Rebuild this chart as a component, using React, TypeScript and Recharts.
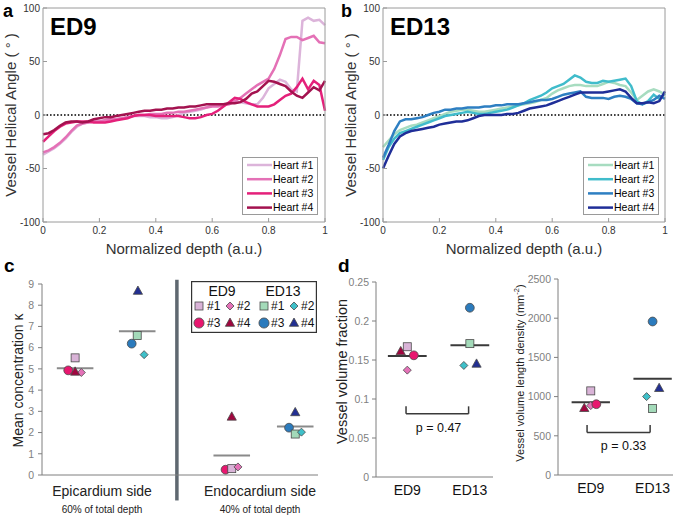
import React from 'react';
import {
  LineChart,
  Line,
  XAxis,
  YAxis,
  ReferenceLine,
  ReferenceDot,
  Legend,
  ScatterChart,
  Scatter,
} from 'recharts';

const FONT = '"Liberation Sans", Arial, Helvetica, sans-serif';

// ---------- Panels a & b : helical angle vs normalized depth ----------
const DEPTH = [
  0, 0.02, 0.04, 0.06, 0.08, 0.1, 0.12, 0.14, 0.16, 0.18,
  0.2, 0.22, 0.24, 0.26, 0.28, 0.3, 0.32, 0.34, 0.36, 0.38,
  0.4, 0.42, 0.44, 0.46, 0.48, 0.5, 0.52, 0.54, 0.56, 0.58,
  0.6, 0.62, 0.64, 0.66, 0.68, 0.7, 0.72, 0.74, 0.76, 0.78,
  0.8, 0.82, 0.84, 0.86, 0.88, 0.9, 0.92, 0.94, 0.96, 0.98, 1,
];

const ED9_H1 = [
  -37, -34, -31, -27, -22, -16, -11, -8, -7, -6,
  -6, -5, -5, -4, -3, -2, -1, -1, -1, -2,
  -2, -3, -3, -2, 0, 2, 3, 4, 5, 7,
  9, 9, 10, 11, 12, 12, 11, 10, 10, 16,
  25, 29, 33, 31, 24, 22, 88, 91, 88, 89, 84,
];
const ED9_H2 = [
  -35, -33, -30, -26, -21, -15, -10, -8, -7, -6,
  -6, -5, -4, -4, -3, -2, -1, 0, 0, 1,
  1, 1, 2, 2, 3, 3, 4, 5, 6, 7,
  8, 8, 9, 10, 13, 16, 20, 24, 28, 31,
  34, 43, 56, 71, 73, 73, 70, 72, 74, 68, 67,
];
const ED9_H3 = [
  -25, -20, -15, -11, -8, -7, -6, -6, -6, -7,
  -7, -7, -6, -5, -4, -3, -1, 0, 0, 0,
  -1, -1, -1, -1, -1, -2, -3, -3, -2, 0,
  1, 4, 8, 12, 16, 15, 12, 10, 8, 8,
  8, 10, 14, 18, 20, 26, 34, 24, 32, 28, 4,
];
const ED9_H4 = [
  -18, -17, -14, -10, -7, -6, -6, -7, -6, -4,
  -3, -2, -2, -1, 0, 1, 2, 3, 4, 4,
  5, 5, 6, 6, 7, 7, 8, 8, 9, 10,
  10, 10, 10, 11, 11, 12, 15, 20, 22, 27,
  32, 31, 29, 27, 22, 18, 16, 21, 26, 23, 32,
];

const ED13_H1 = [
  -30, -24, -18, -14, -12, -10, -9, -7, -5, -3,
  -1, 1, 3, 4, 5, 5, 4, 3, 3, 4,
  5, 6, 7, 8, 9, 10, 11, 12, 14, 16,
  20, 23, 25, 27, 28, 28, 27, 27, 27, 29,
  31, 30, 28, 27, 21, 14, 18, 22, 24, 22, 19,
];
const ED13_H2 = [
  -42, -30, -22, -17, -15, -13, -11, -9, -7, -5,
  -3, -1, 0, 1, 2, 3, 2, 1, 1, 2,
  3, 4, 5, 7, 9, 11, 14, 16, 18, 21,
  25, 27, 29, 33, 37, 35, 31, 30, 30, 32,
  31, 32, 33, 34, 27, 13, 10, 13, 19, 15, 20,
];
const ED13_H3 = [
  -40, -28, -15, -6, -4, -4, -3, -2, 0, 2,
  3, 5, 5, 6, 6, 7, 7, 7, 8, 8,
  9, 9, 10, 10, 10, 11, 12, 13, 14, 14,
  15, 17, 19, 20, 21, 22, 17, 16, 16, 16,
  15, 17, 18, 17, 15, 11, 10, 12, 14, 18, 15,
];
const ED13_H4 = [
  -50, -38, -27, -20, -17, -15, -14, -13, -12, -11,
  -9, -8, -7, -6, -6, -5, -3, -1, 0, 0,
  0, 0, 1, 1, 2, 4, 6, 7, 8, 9,
  11, 13, 15, 17, 19, 21, 21, 21, 21, 21,
  22, 23, 24, 22, 16, 11, 11, 12, 11, 13, 22,
];

const HEART_LABELS = ['Heart #1', 'Heart #2', 'Heart #3', 'Heart #4'];
const ED9_LINE_COLORS = ['#dcb4da', '#e471b6', '#e4207a', '#a3124f'];
const ED13_LINE_COLORS = ['#a7dcc0', '#40bccb', '#2e7fc2', '#1f2e98'];
const ANGLE_TICKS = [-100, -50, 0, 50, 100];
const DEPTH_TICKS = [0, 0.2, 0.4, 0.6, 0.8, 1];

// ---------- Panel c : mean concentration kappa ----------
const KAPPA_TICKS = [0, 1, 2, 3, 4, 5, 6, 7, 8, 9];
const KAPPA_ED9_EPI = [5.52, 4.83, 4.93, 4.86];
const KAPPA_ED13_EPI = [6.57, 5.67, 6.19, 8.67];
const KAPPA_ED9_ENDO = [0.3, 0.38, 0.25, 2.74];
const KAPPA_ED13_ENDO = [1.93, 2.02, 2.23, 2.95];
const C_GROUP_X = { ed9Epi: 0.48, ed13Epi: 1.38, ed9Endo: 2.75, ed13Endo: 3.67 };
const C_JIT_ED9_EPI = [0, 0.09, -0.1, 0];
const C_JIT_ED13_EPI = [0, 0.1, -0.08, 0.01];
const C_JIT_ED9_ENDO = [0, 0.09, -0.09, 0];
const C_JIT_ED13_ENDO = [0, 0.09, -0.09, 0];
const C_DIVIDER_X = 1.955;
const C_LABEL_TICKS = [0.87, 3.16];
const C_LABELS = ['Epicardium side', 'Endocardium side'];
const C_SUBLABELS = ['60% of total depth', '40% of total depth'];

// ---------- Panel d ----------
const STAGES = ['ED9', 'ED13'];
const VVF_TICKS = [0, 0.05, 0.1, 0.15, 0.2, 0.25];
const VVF_ED9 = [0.167, 0.137, 0.156, 0.161];
const VVF_ED13 = [0.171, 0.143, 0.217, 0.145];
const VVF_JIT_ED9 = [0, 0, 0.105, -0.105];
const VVF_JIT_ED13 = [0, -0.096, 0, 0.107];
const VLD_TICKS = [0, 500, 1000, 1500, 2000, 2500];
const VLD_ED9 = [1073, 885, 903, 852];
const VLD_ED13 = [847, 1000, 1958, 1107];
const VLD_JIT_ED9 = [0, 0, 0.09, -0.105];
const VLD_JIT_ED13 = [0, -0.097, 0, 0.106];
const P_VALUES = ['p = 0.47', 'p = 0.33'];

const MARKER_KINDS = ['square', 'diamond', 'circle', 'triangle'];
const ED9_MARKER_COLORS = ['#d9b3d7', '#e472b8', '#e8176f', '#a0063f'];
const ED13_MARKER_COLORS = ['#a3dab9', '#3fc0c9', '#2b7bbd', '#222f92'];

const mean = (a: number[]) => a.reduce((s, v) => s + v, 0) / a.length;

function Marker(props: any) {
  const { cx, cy, kind, fill, s = 1 } = props;
  if (cx == null || cy == null) return null;
  const st = { fill, stroke: '#4a4a4a', strokeWidth: 0.8 };
  if (kind === 'square') {
    const h = 4 * s;
    return <rect x={cx - h} y={cy - h} width={2 * h} height={2 * h} {...st} />;
  }
  if (kind === 'diamond') {
    const h = 4 * s;
    return <polygon points={`${cx},${cy - h} ${cx + h},${cy} ${cx},${cy + h} ${cx - h},${cy}`} {...st} />;
  }
  if (kind === 'circle') {
    return <circle cx={cx} cy={cy} r={4.4 * s} {...st} />;
  }
  const w = 4.6 * s;
  return (
    <polygon
      points={`${cx},${cy - 5 * s} ${cx + w},${cy + 3.3 * s} ${cx - w},${cy + 3.3 * s}`}
      {...st}
    />
  );
}

function YTitle(props: any) {
  const { viewBox, text, dx = 0, dy = 0, fontSize = 15, fill = '#333', children } = props;
  const vb = viewBox || { x: 0, y: 0, width: 0, height: 0 };
  const x = vb.x + dx;
  const y = vb.y + vb.height / 2 + dy;
  return (
    <text
      x={x}
      y={y}
      transform={`rotate(-90 ${x} ${y})`}
      textAnchor="middle"
      dominantBaseline="central"
      fontSize={fontSize}
      fill={fill}
      fontFamily={FONT}
    >
      {children || text}
    </text>
  );
}

function XTitle(props: any) {
  const { viewBox, text, dy = 32, fontSize = 15, fill = '#333' } = props;
  const vb = viewBox || { x: 0, y: 0, width: 0, height: 0 };
  return (
    <text
      x={vb.x + vb.width / 2}
      y={vb.y + dy}
      textAnchor="middle"
      fontSize={fontSize}
      fill={fill}
      fontFamily={FONT}
    >
      {text}
    </text>
  );
}

function AngleLegend(props: any) {
  const { payload = [] } = props;
  return (
    <svg width={76} height={58} style={{ display: 'block' }}>
      <rect x={0.5} y={0.5} width={75} height={57} fill="#fff" stroke="#9a9a9a" strokeWidth={1} />
      {payload.map((p: any, i: number) => (
        <g key={i}>
          <line x1={5} x2={30} y1={8 + i * 14.2} y2={8 + i * 14.2} stroke={p.color} strokeWidth={2.5} />
          <text x={31} y={8 + i * 14.2 + 3.8} fontSize={10.5} fill="#000" fontFamily={FONT}>
            {p.value}
          </text>
        </g>
      ))}
    </svg>
  );
}

function AnglePanel(props: any) {
  const { left, width, marginRight, series, colors, legendLeft } = props;
  const rows = DEPTH.map((d, i) => {
    const r: any = { depth: d };
    series.forEach((s: number[], k: number) => {
      r['h' + (k + 1)] = s[i];
    });
    return r;
  });
  const axisColor = '#9a9a9a';
  return (
    <div style={{ position: 'absolute', left, top: 0 }}>
      <LineChart
        width={width}
        height={260}
        data={rows}
        margin={{ top: 7, right: marginRight, bottom: 8, left: 3 }}
      >
        <XAxis
          dataKey="depth"
          type="number"
          domain={[0, 1]}
          ticks={DEPTH_TICKS}
          interval={0}
          height={30}
          tickSize={-4}
          tickMargin={9}
          axisLine={{ stroke: axisColor }}
          tickLine={{ stroke: axisColor }}
          tick={{ fontSize: 10, fill: '#333', fontFamily: FONT }}
          label={<XTitle text="Normalized depth (a.u.)" />}
        />
        <XAxis
          xAxisId="top"
          orientation="top"
          type="number"
          domain={[0, 1]}
          ticks={DEPTH_TICKS}
          interval={0}
          height={1}
          tickSize={-4}
          tick={false}
          axisLine={{ stroke: axisColor }}
          tickLine={{ stroke: axisColor }}
        />
        <YAxis
          type="number"
          domain={[-100, 100]}
          ticks={ANGLE_TICKS}
          interval={0}
          width={40}
          tickSize={-4}
          tickMargin={7}
          axisLine={{ stroke: axisColor }}
          tickLine={{ stroke: axisColor }}
          tick={{ fontSize: 10, fill: '#333', fontFamily: FONT }}
          label={<YTitle text="Vessel Helical Angle ( ° )" dx={7} fontSize={15} />}
        />
        <YAxis
          yAxisId="right"
          orientation="right"
          type="number"
          domain={[-100, 100]}
          ticks={ANGLE_TICKS}
          interval={0}
          width={1}
          tickSize={-4}
          tick={false}
          axisLine={{ stroke: axisColor }}
          tickLine={{ stroke: axisColor }}
        />
        <ReferenceLine y={0} stroke="#000" strokeDasharray="1.6 1.9" strokeWidth={1.6} />
        {series.map((_: number[], k: number) => (
          <Line
            key={k}
            type="linear"
            dataKey={'h' + (k + 1)}
            name={HEART_LABELS[k]}
            stroke={colors[k]}
            strokeWidth={2.5}
            dot={false}
            activeDot={false}
            isAnimationActive={false}
          />
        ))}
        <Legend
          layout="vertical"
          align="center"
          verticalAlign="middle"
          wrapperStyle={{ left: legendLeft, top: 157, width: 76, height: 58 }}
          content={<AngleLegend />}
        />
      </LineChart>
    </div>
  );
}

function CTick(props: any) {
  const { x, y, payload } = props;
  const idx = C_LABEL_TICKS.indexOf(payload.value);
  return (
    <g>
      <text x={x} y={y + 21} textAnchor="middle" fontSize={14} fill="#222" fontFamily={FONT}>
        {C_LABELS[idx]}
      </text>
      <text x={x} y={y + 38} textAnchor="middle" fontSize={10} fill="#222" fontFamily={FONT}>
        {C_SUBLABELS[idx]}
      </text>
    </g>
  );
}

function KappaLegend() {
  const colX = [8, 39, 73, 103];
  const txtX = [16, 46, 80, 110];
  const rowY = [25, 42];
  const cells = [
    { row: 0, col: 0, heart: 0, stage: 0 },
    { row: 0, col: 1, heart: 1, stage: 0 },
    { row: 0, col: 2, heart: 0, stage: 1 },
    { row: 0, col: 3, heart: 1, stage: 1 },
    { row: 1, col: 0, heart: 2, stage: 0 },
    { row: 1, col: 1, heart: 3, stage: 0 },
    { row: 1, col: 2, heart: 2, stage: 1 },
    { row: 1, col: 3, heart: 3, stage: 1 },
  ];
  return (
    <svg width={126} height={52} style={{ display: 'block' }}>
      <rect x={0.6} y={0.6} width={124.8} height={50.8} fill="#fff" stroke="#333" strokeWidth={1.2} />
      <text x={31} y={14.5} textAnchor="middle" fontSize={14} fill="#111" fontFamily={FONT}>
        {STAGES[0]}
      </text>
      <text x={92} y={14.5} textAnchor="middle" fontSize={14} fill="#111" fontFamily={FONT}>
        {STAGES[1]}
      </text>
      {cells.map((c, i) => (
        <g key={i}>
          <Marker
            cx={colX[c.col]}
            cy={rowY[c.row]}
            kind={MARKER_KINDS[c.heart]}
            fill={c.stage === 0 ? ED9_MARKER_COLORS[c.heart] : ED13_MARKER_COLORS[c.heart]}
            s={c.heart === 2 ? 1.15 : 1}
          />
          <text x={txtX[c.col]} y={rowY[c.row] + 4.2} fontSize={12} fill="#111" fontFamily={FONT}>
            {'#' + (c.heart + 1)}
          </text>
        </g>
      ))}
    </svg>
  );
}

function KappaPanel() {
  const grey = '#7f7f7f';
  const order = [2, 0, 1, 3];
  const groups = [
    { vals: KAPPA_ED9_EPI, x: C_GROUP_X.ed9Epi },
    { vals: KAPPA_ED13_EPI, x: C_GROUP_X.ed13Epi },
    { vals: KAPPA_ED9_ENDO, x: C_GROUP_X.ed9Endo },
    { vals: KAPPA_ED13_ENDO, x: C_GROUP_X.ed13Endo },
  ];
  return (
    <div style={{ position: 'absolute', left: 0, top: 270 }}>
      <ScatterChart width={330} height={247} margin={{ top: 14, right: 12, bottom: 2, left: 7 }}>
        <XAxis
          type="number"
          dataKey="x"
          domain={[0, 4]}
          ticks={C_LABEL_TICKS}
          interval={0}
          height={40}
          tickSize={0}
          tickMargin={0}
          tickLine={false}
          axisLine={{ stroke: grey }}
          tick={<CTick />}
        />
        <YAxis
          type="number"
          dataKey="y"
          domain={[0, 9]}
          ticks={KAPPA_TICKS}
          interval={0}
          width={35}
          tickSize={4}
          tickMargin={4}
          axisLine={{ stroke: grey }}
          tickLine={{ stroke: grey }}
          tick={{ fontSize: 10.5, fill: grey, fontFamily: FONT }}
          label={<YTitle text="Mean concentration κ" dx={11} dy={1} fontSize={14} fill="#222" />}
        />
        <ReferenceLine
          segment={[
            { x: C_DIVIDER_X, y: -1.2 },
            { x: C_DIVIDER_X, y: 9.2 },
          ]}
          stroke="#5f6870"
          strokeWidth={3.5}
          ifOverflow="visible"
        />
        {groups.map((g, i) => (
          <ReferenceLine
            key={'m' + i}
            segment={[
              { x: g.x - 0.265, y: mean(g.vals) },
              { x: g.x + 0.265, y: mean(g.vals) },
            ]}
            stroke="#8a8a8a"
            strokeWidth={2}
            ifOverflow="visible"
          />
        ))}
        {order.map((k) => (
          <Scatter
            key={'ed9-' + k}
            name={'ED9 #' + (k + 1)}
            data={[
              { x: C_GROUP_X.ed9Epi + C_JIT_ED9_EPI[k], y: KAPPA_ED9_EPI[k] },
              { x: C_GROUP_X.ed9Endo + C_JIT_ED9_ENDO[k], y: KAPPA_ED9_ENDO[k] },
            ]}
            isAnimationActive={false}
            shape={(p: any) => <Marker cx={p.cx} cy={p.cy} kind={MARKER_KINDS[k]} fill={ED9_MARKER_COLORS[k]} />}
          />
        ))}
        {order.map((k) => (
          <Scatter
            key={'ed13-' + k}
            name={'ED13 #' + (k + 1)}
            data={[
              { x: C_GROUP_X.ed13Epi + C_JIT_ED13_EPI[k], y: KAPPA_ED13_EPI[k] },
              { x: C_GROUP_X.ed13Endo + C_JIT_ED13_ENDO[k], y: KAPPA_ED13_ENDO[k] },
            ]}
            isAnimationActive={false}
            shape={(p: any) => <Marker cx={p.cx} cy={p.cy} kind={MARKER_KINDS[k]} fill={ED13_MARKER_COLORS[k]} />}
          />
        ))}
        <Legend
          layout="vertical"
          align="center"
          verticalAlign="middle"
          wrapperStyle={{ left: 191, top: 11, width: 126, height: 52 }}
          content={<KappaLegend />}
        />
      </ScatterChart>
    </div>
  );
}

function StagePanel(props: any) {
  const {
    left, width, margin, yWidth, domainX, yDomain, yTicks, ed9, ed13, jit9, jit13,
    bracket, pLabel, pPos, title, titleDx, titleDy, titleSize, tickMargin,
  } = props;
  const grey = '#7f7f7f';
  const dark = '#3a3a3a';
  return (
    <div style={{ position: 'absolute', left, top: 270 }}>
      <ScatterChart width={width} height={247} margin={margin}>
        <XAxis
          type="number"
          dataKey="x"
          domain={domainX}
          ticks={[0, 1]}
          interval={0}
          height={30}
          tickSize={0}
          tickMargin={8}
          tickLine={false}
          axisLine={{ stroke: grey }}
          tickFormatter={(v: number) => STAGES[v]}
          tick={{ fontSize: 14, fill: '#111', fontFamily: FONT }}
        />
        <YAxis
          type="number"
          dataKey="y"
          domain={yDomain}
          ticks={yTicks}
          interval={0}
          width={yWidth}
          tickSize={4}
          tickMargin={tickMargin}
          axisLine={{ stroke: grey }}
          tickLine={{ stroke: grey }}
          tick={{ fontSize: 10.5, fill: grey, fontFamily: FONT }}
          label={
            <YTitle dx={titleDx} dy={titleDy} fontSize={titleSize} fill="#222">
              {title}
            </YTitle>
          }
        />
        <ReferenceLine
          segment={[{ x: -0.31, y: mean(ed9) }, { x: 0.31, y: mean(ed9) }]}
          stroke={dark}
          strokeWidth={2}
          ifOverflow="visible"
        />
        <ReferenceLine
          segment={[{ x: 1 - 0.31, y: mean(ed13) }, { x: 1 + 0.31, y: mean(ed13) }]}
          stroke={dark}
          strokeWidth={2}
          ifOverflow="visible"
        />
        <ReferenceLine
          segment={[{ x: bracket.x0, y: bracket.y }, { x: bracket.x1, y: bracket.y }]}
          stroke={dark}
          strokeWidth={1.5}
        />
        <ReferenceLine
          segment={[{ x: bracket.x0, y: bracket.y }, { x: bracket.x0, y: bracket.top }]}
          stroke={dark}
          strokeWidth={1.5}
        />
        <ReferenceLine
          segment={[{ x: bracket.x1, y: bracket.y }, { x: bracket.x1, y: bracket.top }]}
          stroke={dark}
          strokeWidth={1.5}
        />
        <ReferenceDot
          x={pPos.x}
          y={pPos.y}
          r={0}
          fill="none"
          stroke="none"
          label={{ value: pLabel, position: 'center', fontSize: 12.5, fill: '#111', fontFamily: FONT }}
        />
        {[0, 1, 2, 3].map((k) => (
          <Scatter
            key={'a' + k}
            name={'ED9 #' + (k + 1)}
            data={[{ x: jit9[k], y: ed9[k] }]}
            isAnimationActive={false}
            shape={(p: any) => <Marker cx={p.cx} cy={p.cy} kind={MARKER_KINDS[k]} fill={ED9_MARKER_COLORS[k]} />}
          />
        ))}
        {[0, 1, 2, 3].map((k) => (
          <Scatter
            key={'b' + k}
            name={'ED13 #' + (k + 1)}
            data={[{ x: 1 + jit13[k], y: ed13[k] }]}
            isAnimationActive={false}
            shape={(p: any) => <Marker cx={p.cx} cy={p.cy} kind={MARKER_KINDS[k]} fill={ED13_MARKER_COLORS[k]} />}
          />
        ))}
      </ScatterChart>
    </div>
  );
}

export default function App() {
  return (
    <div
      style={{
        position: 'absolute',
        left: 0,
        top: 0,
        width: 685,
        height: 517,
        background: '#fff',
        fontFamily: FONT,
        overflow: 'hidden',
      }}
    >
      <AnglePanel
        left={0}
        width={340}
        marginRight={14}
        series={[ED9_H1, ED9_H2, ED9_H3, ED9_H4]}
        colors={ED9_LINE_COLORS}
        legendLeft={242}
      />
      <AnglePanel
        left={340}
        width={345}
        marginRight={19}
        series={[ED13_H1, ED13_H2, ED13_H3, ED13_H4]}
        colors={ED13_LINE_COLORS}
        legendLeft={243}
      />
      <KappaPanel />
      <StagePanel
        left={330}
        width={180}
        margin={{ top: 12, right: 17, bottom: 10, left: 10 }}
        yWidth={36}
        tickMargin={3}
        domainX={[-0.5, 1.37]}
        yDomain={[0, 0.25]}
        yTicks={VVF_TICKS}
        ed9={VVF_ED9}
        ed13={VVF_ED13}
        jit9={VVF_JIT_ED9}
        jit13={VVF_JIT_ED13}
        bracket={{ x0: -0.02, x1: 0.98, y: 0.081, top: 0.0906 }}
        pLabel={P_VALUES[0]}
        pPos={{ x: 0.5, y: 0.064 }}
        title="Vessel volume fraction"
        titleDx={1.5}
        titleDy={-8}
        titleSize={14.5}
      />
      <StagePanel
        left={510}
        width={175}
        margin={{ top: 9, right: 12, bottom: 12, left: 8 }}
        yWidth={40}
        tickMargin={3}
        domainX={[-0.53, 1.33]}
        yDomain={[0, 2500]}
        yTicks={VLD_TICKS}
        ed9={VLD_ED9}
        ed13={VLD_ED13}
        jit9={VLD_JIT_ED9}
        jit13={VLD_JIT_ED13}
        bracket={{ x0: -0.06, x1: 0.96, y: 541, top: 639 }}
        pLabel={P_VALUES[1]}
        pPos={{ x: 0.53, y: 370 }}
        title={
          <>
            Vessel volume length density (mm
            <tspan dy={-4} fontSize={7.5}>-2</tspan>
            <tspan dy={4}>)</tspan>
          </>
        }
        titleDx={2}
        titleDy={-4}
        titleSize={11}
      />
      <svg
        width={685}
        height={517}
        style={{ position: 'absolute', left: 0, top: 0, pointerEvents: 'none' }}
      >
        <g fontFamily={FONT} fontWeight="bold" fill="#000">
          <text x={3} y={16.5} fontSize={18}>a</text>
          <text x={341} y={16.5} fontSize={18}>b</text>
          <text x={4} y={272} fontSize={19}>c</text>
          <text x={338} y={272} fontSize={19}>d</text>
          <text x={50} y={35} fontSize={24}>ED9</text>
          <text x={390} y={35} fontSize={24}>ED13</text>
        </g>
      </svg>
    </div>
  );
}
